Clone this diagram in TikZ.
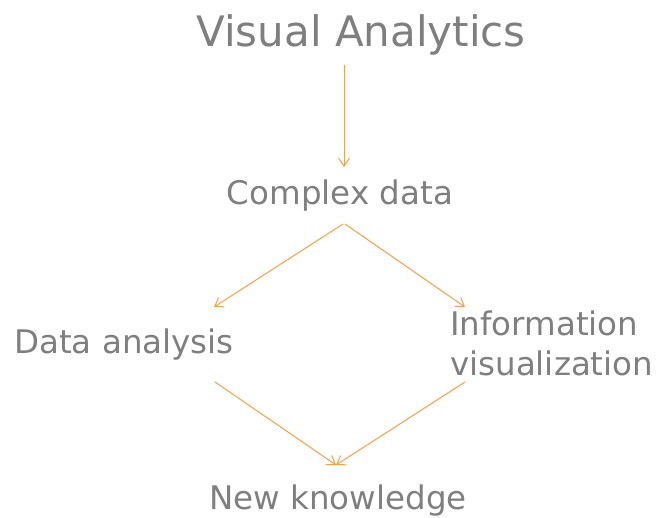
\documentclass[tikz,border=0pt]{standalone}
\usepackage{fontspec}
\setmainfont{DejaVu Sans}
\usetikzlibrary{calc, arrows.meta}
\definecolor{txtgray}{HTML}{7F7F7F}
\definecolor{arrorange}{HTML}{F2A04A}

\begin{document}
\begin{tikzpicture}[x=1pt,y=-1pt,inner sep=0pt,>={Straight Barb[length=8pt,width=11pt]}]%,>=stealth',->]
\useasboundingbox (0,0) rectangle (658,518);
\tikzset{lbl/.style={text=txtgray,font=\fontsize{32.5}{40}\selectfont},
  big/.style={text=txtgray,font=\fontsize{42}{50}\selectfont},
  arr/.style={->,draw=arrorange,line width=1pt}}
\draw node [big,anchor=base] (VA) at (361,47)  {Visual Analytics};
\draw node [lbl,anchor=base] (CD) at (340,205) {Complex data};
\draw node [lbl,anchor=base] (DA) at (124,353) {Data analysis};
\draw node [lbl,anchor=north west,align=left] (IV) at (450,311) {Information\\visualization};
\draw node [lbl,anchor=base] (NK) at (338,509) {New knowledge};
\draw [arr] ($ (VA.base) + (-17,18) $) -- ($ (CD.base) + (4,-38) $);
\draw [arr] ($ (CD.base) + (3,19) $) -- ($ (DA.base) + (90,-46) $);
\draw [arr] ($ (CD.base) + (5,19) $) -- ($ (IV.north west) + (15,-4) $);
\draw [arr] ($ (DA.base) + (91,29) $) -- ($ (NK.base) + (-2,-44) $);
\draw [arr] ($ (IV.north west) + (15,71) $) -- ($ (NK.base) + (-2,-44) $);
\end{tikzpicture}
\end{document}
